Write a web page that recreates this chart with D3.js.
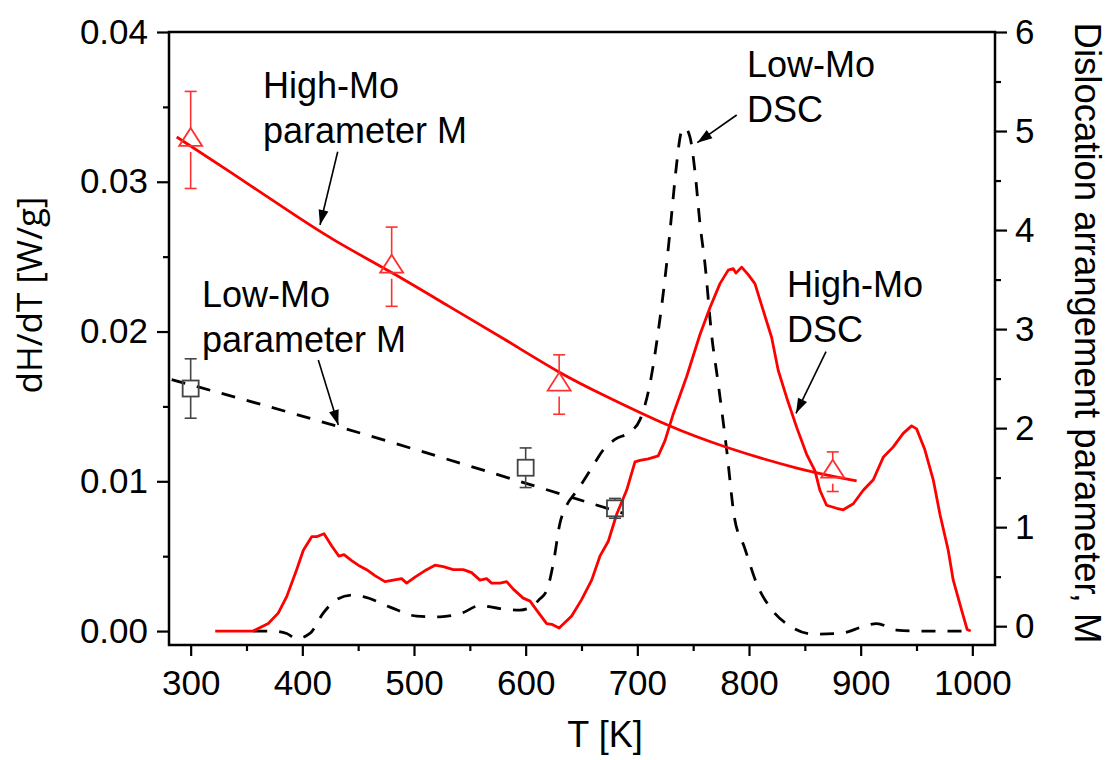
<!DOCTYPE html>
<html>
<head>
<meta charset="utf-8">
<script src="https://cdn.jsdelivr.net/npm/d3@7"></script>
<style>
  html, body { margin: 0; padding: 0; background: #fff; }
  svg { display: block; }
</style>
</head>
<body>
<svg id="chart" width="1110" height="760"></svg>
<script>
// ---------------- DATA ----------------
// High-Mo DSC (left axis, W/g)
const hiDscT = [322,356,369.5,378.4,386,394.9,400.9,408.4,412.8,419.4,426.2,432.8,437.3,444.2,450.1,457.6,465,474,481.4,488.9,493.4,500.9,511.3,518.8,526.2,535.2,544.1,551.6,559.1,565,569.5,577,583,588.9,597.8,604,609.8,618.8,623.3,630,641.2,650.1,659.1,666.5,674,681.5,690.4,697.9,702.3,709.8,718.7,724.7,732.2,744.2,756.1,765.1,774,781.4,785.9,788.3,793.4,799.3,805.3,812.8,820.3,826.2,833.7,842.7,851.6,859.1,863.5,869.5,878.5,884.4,893.4,902.3,911.3,920.2,929.2,938.1,945.6,950.1,957.5,965,971,978.4,982.9,990.4,995.4,998.5];
const hiDscV = [0,0,0.0005,0.0012,0.0023,0.0041,0.0054,0.0063,0.0063,0.0065,0.0057,0.0050,0.0051,0.0047,0.0044,0.0041,0.0037,0.0033,0.0034,0.0035,0.0032,0.0036,0.0041,0.0044,0.0043,0.0041,0.0041,0.0039,0.0034,0.0035,0.0032,0.0032,0.0033,0.0028,0.0022,0.0020,0.0014,0.0005,0.00045,0.0002,0.0010,0.0021,0.0034,0.0050,0.0060,0.0078,0.0094,0.0113,0.0114,0.0115,0.0117,0.0127,0.0145,0.0170,0.0198,0.0216,0.0232,0.0241,0.0242,0.0239,0.0243,0.0238,0.0232,0.0214,0.0196,0.0174,0.0156,0.0136,0.0118,0.0107,0.0094,0.0084,0.0082,0.0081,0.0085,0.0094,0.0101,0.0116,0.0123,0.0132,0.0137,0.0135,0.0121,0.0101,0.0078,0.0054,0.0034,0.0014,0.0001,0];

// Low-Mo DSC (left axis, W/g)
const loDscT = [356,374,386,394.9,406.8,418.7,430.7,444.2,454.6,478.5,502.4,523.2,542.7,559.1,577,594.9,606.8,612,618.8,624.7,630.7,636.7,644.1,651.6,660,669.5,680,693.4,702.3,711.3,718.7,724.7,729,732.2,735.2,739.7,742.6,747.1,751.6,756.1,760.6,766.5,772.5,780,786.9,795.9,807.8,819.7,837.6,857.5,881.4,902.3,914.3,932.2,956,997.8];
const loDscV = [0,0,-0.00016,-0.0005,-0.00016,0.0012,0.0021,0.0024,0.0023,0.0016,0.0010,0.00095,0.0012,0.0017,0.0015,0.0014,0.0017,0.0021,0.0027,0.0045,0.0072,0.0084,0.0092,0.0100,0.0110,0.0121,0.0128,0.0133,0.0141,0.0165,0.0200,0.0235,0.0265,0.0290,0.0312,0.0334,0.0336,0.0330,0.0307,0.0272,0.0245,0.0198,0.0165,0.0121,0.0076,0.0056,0.0030,0.0015,0.0003,-0.0002,-0.00016,0.0003,0.0005,0.00007,0,0];

// High-Mo parameter M (right axis)
const hiMT = [300, 480, 630, 875];
const hiMV = [4.91, 3.63, 2.44, 1.56];
const hiMErr = [0.49, 0.40, 0.30, 0.20];
const hiFitT = [287.5, 335, 392, 427, 481, 531, 581, 631, 666.5, 729, 777, 846, 896.4];
const hiFitV = [4.94, 4.59, 4.16, 3.90, 3.57, 3.23, 2.90, 2.55, 2.35, 2.01, 1.81, 1.576, 1.468];

// Low-Mo parameter M (right axis)
const loMT = [300, 600, 680];
const loMV = [2.40, 1.60, 1.19];
const loMErr = [0.30, 0.20, 0.10];
const loFitT = [283, 430.7, 609.8, 687.4];
const loFitV = [2.49, 2.03, 1.41, 1.14];

// Axis ticks
const xTicks = [300, 400, 500, 600, 700, 800, 900, 1000];
const xMinor = [350, 450, 550, 650, 750, 850, 950];
const yLTicks = [0, 0.01, 0.02, 0.03, 0.04];
const yLMinor = [0.005, 0.015, 0.025, 0.035];
const yRTicks = [0, 1, 2, 3, 4, 5, 6];
const yRMinor = [0.5, 1.5, 2.5, 3.5, 4.5, 5.5];

// Annotation texts
const labels = [
  {lines: ["High-Mo", "parameter M"]},
  {lines: ["Low-Mo", "parameter M"]},
  {lines: ["Low-Mo", "DSC"]},
  {lines: ["High-Mo", "DSC"]}
];

// ---------------- DRAW ----------------
const svg = d3.select("#chart");
const L = 169, R = 995, T = 32, B = 645;
const FONT = "'Liberation Sans', Arial, sans-serif";

const x = d3.scaleLinear().domain([280.6, 1020.3]).range([L, R]);
const yL = d3.scaleLinear().domain([-0.00093, 0.04]).range([B, T]);
const yR = d3.scaleLinear().domain([-0.19, 6]).range([B, T]);

const defs = svg.append("defs");
defs.append("clipPath").attr("id", "clip")
  .append("rect").attr("x", L).attr("y", T).attr("width", R - L).attr("height", B - T);
defs.append("marker").attr("id", "arrow")
  .attr("markerUnits", "userSpaceOnUse")
  .attr("viewBox", "-16 -6 17 12")
  .attr("refX", 0).attr("refY", 0)
  .attr("markerWidth", 17).attr("markerHeight", 12)
  .attr("orient", "auto")
  .append("path").attr("d", "M0,0 L-15,-5 L-15,5 Z").attr("fill", "#000");

const plot = svg.append("g").attr("clip-path", "url(#clip)");

// Low-Mo DSC (dashed black)
plot.append("path")
  .datum(loDscT.map((t, i) => [t, loDscV[i]]))
  .attr("fill", "none").attr("stroke", "#000").attr("stroke-width", 2.8)
  .attr("stroke-dasharray", "14,12")
  .attr("d", d3.line().x(d => x(d[0])).y(d => yL(d[1])).curve(d3.curveMonotoneX));

// High-Mo DSC (solid red)
plot.append("path")
  .datum(hiDscT.map((t, i) => [t, hiDscV[i]]))
  .attr("fill", "none").attr("stroke", "#ff0000").attr("stroke-width", 2.8)
  .attr("stroke-linejoin", "round")
  .attr("d", d3.line().x(d => x(d[0])).y(d => yL(d[1])));

// Low-Mo fit (dashed black)
plot.append("path")
  .datum(loFitT.map((t, i) => [t, loFitV[i]]))
  .attr("fill", "none").attr("stroke", "#000").attr("stroke-width", 2.8)
  .attr("stroke-dasharray", "14,12")
  .attr("d", d3.line().x(d => x(d[0])).y(d => yR(d[1])).curve(d3.curveBasis));

// High-Mo fit (solid red)
plot.append("path")
  .datum(hiFitT.map((t, i) => [t, hiFitV[i]]))
  .attr("fill", "none").attr("stroke", "#ff0000").attr("stroke-width", 2.8)
  .attr("d", d3.line().x(d => x(d[0])).y(d => yR(d[1])).curve(d3.curveBasis));

// Error bars + markers
function errBars(Ts, Vs, Es, color, gap, capW) {
  const g = plot.append("g").attr("stroke", color).attr("stroke-width", 1.6).attr("fill", "none");
  Ts.forEach((t, i) => {
    const cx = x(t), cy = yR(Vs[i]);
    const top = yR(Vs[i] + Es[i]), bot = yR(Vs[i] - Es[i]);
    if (cy - gap > top) g.append("line").attr("x1", cx).attr("x2", cx).attr("y1", top).attr("y2", cy - gap);
    if (cy + gap < bot) g.append("line").attr("x1", cx).attr("x2", cx).attr("y1", cy + gap).attr("y2", bot);
    g.append("line").attr("x1", cx - capW / 2).attr("x2", cx + capW / 2).attr("y1", top).attr("y2", top);
    g.append("line").attr("x1", cx - capW / 2).attr("x2", cx + capW / 2).attr("y1", bot).attr("y2", bot);
  });
}
errBars(hiMT, hiMV, hiMErr, "#ff3030", 12, 12);
errBars(loMT, loMV, loMErr, "#444", 8.5, 12);

plot.append("g").selectAll("path").data(hiMT.map((t, i) => [t, hiMV[i]])).join("path")
  .attr("transform", d => `translate(${x(d[0])},${yR(d[1])})`)
  .attr("d", "M0,-12 L11.5,6 L-11.5,6 Z")
  .attr("fill", "none").attr("stroke", "#ff3030").attr("stroke-width", 1.8);

plot.append("g").selectAll("rect").data(loMT.map((t, i) => [t, loMV[i]])).join("rect")
  .attr("x", d => x(d[0]) - 8).attr("y", d => yR(d[1]) - 8)
  .attr("width", 16).attr("height", 16)
  .attr("fill", "none").attr("stroke", "#444").attr("stroke-width", 1.8);

// ---------------- AXES ----------------
function styleAxis(g) {
  g.select(".domain").remove();
  g.selectAll("line").attr("stroke", "#000").attr("stroke-width", 2.2);
  g.selectAll("text").attr("font-family", FONT).attr("font-size", 35).attr("fill", "#000");
}
svg.append("g").attr("transform", `translate(0,${B})`)
  .call(d3.axisBottom(x).tickValues(xTicks).tickSize(11).tickPadding(14).tickFormat(d3.format("d")))
  .call(styleAxis);
svg.append("g").attr("transform", `translate(0,${B})`)
  .call(d3.axisBottom(x).tickValues(xMinor).tickSize(6).tickFormat(""))
  .call(styleAxis);

svg.append("g").attr("transform", `translate(${L},0)`)
  .call(d3.axisLeft(yL).tickValues(yLTicks).tickSize(12).tickPadding(9).tickFormat(d3.format(".2f")))
  .call(styleAxis);
svg.append("g").attr("transform", `translate(${L},0)`)
  .call(d3.axisLeft(yL).tickValues(yLMinor).tickSize(6).tickFormat(""))
  .call(styleAxis);

svg.append("g").attr("transform", `translate(${R},0)`)
  .call(d3.axisRight(yR).tickValues(yRTicks).tickSize(12).tickPadding(8).tickFormat(d3.format("d")))
  .call(styleAxis);
svg.append("g").attr("transform", `translate(${R},0)`)
  .call(d3.axisRight(yR).tickValues(yRMinor).tickSize(6).tickFormat(""))
  .call(styleAxis);

// Frame
svg.append("rect").attr("x", L).attr("y", T).attr("width", R - L).attr("height", B - T)
  .attr("fill", "none").attr("stroke", "#000").attr("stroke-width", 2.5);

// Axis titles
svg.append("text").attr("x", 605).attr("y", 747).attr("text-anchor", "middle")
  .attr("font-family", FONT).attr("font-size", 36).text("T [K]");
svg.append("text").attr("transform", "translate(42,295) rotate(-90)").attr("text-anchor", "middle")
  .attr("font-family", "'Open Sans', sans-serif").attr("font-size", 35).text("dH/dT [W/g]");
svg.append("text").attr("transform", "translate(1075,333) rotate(90)").attr("text-anchor", "middle")
  .attr("font-family", FONT).attr("font-size", 36.5).text("Dislocation arrangement parameter, M");

// Annotations
const annPos = [
  {tx: 263, ty: 98, arrow: [[337.7, 151.7], [320, 225]]},
  {tx: 202, ty: 307, arrow: [[318.3, 360], [338.3, 425]]},
  {tx: 747, ty: 77, arrow: [[736.7, 115], [697.3, 142.7]]},
  {tx: 787, ty: 297, arrow: [[826, 351.7], [796, 413.3]]}
];
labels.forEach((lab, i) => {
  const p = annPos[i];
  const t = svg.append("text").attr("font-family", FONT).attr("font-size", 36).attr("fill", "#000");
  lab.lines.forEach((ln, j) => {
    t.append("tspan").attr("x", p.tx).attr("y", p.ty + j * 44.5).text(ln);
  });
  svg.append("line")
    .attr("x1", p.arrow[0][0]).attr("y1", p.arrow[0][1])
    .attr("x2", p.arrow[1][0]).attr("y2", p.arrow[1][1])
    .attr("stroke", "#000").attr("stroke-width", 1.6)
    .attr("marker-end", "url(#arrow)");
});
</script>
</body>
</html>
